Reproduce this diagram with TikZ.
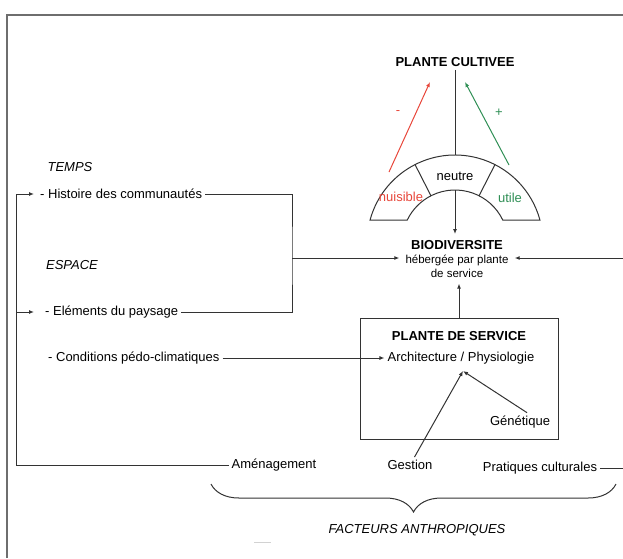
\documentclass[tikz,border=0pt]{standalone}
\usepackage{fontspec}
\setmainfont{Liberation Sans}
\usepackage{xcolor}
\usepackage{tikz}
\usetikzlibrary{arrows.meta,positioning,calc,decorations.pathreplacing}
\definecolor{NuisibleRed} {HTML}{E8473B}
\definecolor{UtileGreen}  {HTML}{2F8F55}
\definecolor{LineGray}    {HTML}{333333}
\definecolor{FrameGray}   {HTML}{6E6E6E}
\tikzset{
  txt/.style={font=\fontsize{13}{15}\selectfont,text=black,inner sep=3pt},
  ttl/.style={txt,font=\fontsize{13}{15}\selectfont\bfseries},
  axe/.style={txt,font=\fontsize{13}{15}\selectfont\itshape},
  link/.style={draw=LineGray,line width=1pt},
  arrowlink/.style={link,-{Latex[length=5pt,width=4pt]}},
}

\begin{document}
\begin{tikzpicture}[x=1pt,y=-1pt]
  \useasboundingbox (0,0) rectangle (623,558);
  % cadre
  \draw[FrameGray,line width=1.3pt] (7,558) |- (623,15);

  % plante cultivee et demi-anneau
  \node[ttl] (cult) at (455,62) {PLANTE CULTIVEE};
  \coordinate (ctr) at (455,243);
  \draw[link,fill=white] ($(ctr)+(-164.9:88)$) arc[start angle=-164.9,end angle=-15.1,radius=88]
    -- ($(ctr)+(-25.7:53)$) arc[start angle=-25.7,end angle=-154.3,radius=53] -- cycle;
  \foreach \ang in {-117,-63}
    \draw[link] ($(ctr)+(\ang:53)$) -- ($(ctr)+(\ang:88)$);
  \node[txt] (neut) at (455,176) {neutre};
  \node[txt,text=NuisibleRed] (nuis) at (401,197) {nuisible};
  \node[txt,text=UtileGreen] (util) at (510,198) {utile};
  \coordinate (ringtop) at (455,155);
  \coordinate (ringin) at (455,190);
  \draw[link] (cult) -- (ringtop);

  \coordinate (nuisfrom) at (389,172);
  \coordinate (nuisto) at (430,82);
  \coordinate (utilfrom) at (509,165);
  \coordinate (utilto) at (465,82);
  \draw[arrowlink,draw=NuisibleRed] (nuisfrom) -- (nuisto);
  \draw[arrowlink,draw=UtileGreen] (utilfrom) -- (utilto);
  \node[txt,text=NuisibleRed] (moins) at (398,113) {-};
  \node[txt,text=UtileGreen] (plus) at (499,113) {+};

  % biodiversite
  \node[align=center,inner sep=6pt,anchor=north,font=\fontsize{11.5}{13.5}\selectfont]
    (biod) at (457,234)
    {{\fontsize{13}{15}\selectfont\bfseries BIODIVERSITE}\\[1pt]
     hébergée par plante\\de service};
  \draw[arrowlink] (ringin) -- (ringin |- biod.north);

  % plante de service
  \node[draw=LineGray,line width=1pt,minimum width=198pt,minimum height=121pt,inner sep=0pt]
    (serv) at (459,378.5) {};
  \node[ttl] (servt) at (459,336) {PLANTE DE SERVICE};
  \node[txt] (archi) at (461,358) {Architecture / Physiologie};
  \node[txt] (gene) at (520,422) {Génétique};
  \coordinate (conv) at (463,371);
  \draw[arrowlink] (serv.north) -- (serv.north |- biod.south);
  \draw[arrowlink] ([xshift=7pt]gene.north) -- (conv);

  % temps, espace
  \node[axe] (temps) at (70,167) {TEMPS};
  \node[txt,anchor=west] (hist) at (37,194) {- Histoire des communautés};
  \node[axe] (espace) at (72,265) {ESPACE};
  \node[txt,anchor=west] (elem) at (42,312) {- Eléments du paysage};
  \node[txt,anchor=west] (cond) at (45,358) {- Conditions pédo-climatiques};
  \coordinate (jonc) at (292,258);
  \coordinate (bordD) at (623,258);
  \draw[link] (hist.east) -| (jonc) |- (elem.east);
  \draw[arrowlink] (jonc) -- (jonc -| biod.west);
  \draw[arrowlink] (bordD) -- (bordD -| biod.east);
  \draw[arrowlink] (cond) -- (archi);

  % facteurs anthropiques
  \node[txt] (amen) at (274,465) {Aménagement};
  \node[txt] (gest) at (410,465) {Gestion};
  \node[txt] (prat) at (540,468) {Pratiques culturales};
  \coordinate (boucle) at (16,194);
  \coordinate (bordB) at (623,468);
  \draw[arrowlink] (gest) -- (conv);
  \draw[link] (amen.west) -| (boucle);
  \draw[arrowlink,shorten >=3pt] (boucle) -- (hist.west);
  \draw[arrowlink,shorten >=8pt] (boucle |- elem) -- (elem.west);
  \draw[link] (prat) -- (bordB);
  \coordinate (accG) at (211,484);
  \coordinate (accD) at (616,484);
  \draw[link,decorate,decoration={brace,mirror,amplitude=28pt}] (accG) -- (accD);
  \node[axe] (fact) at (417,530) {FACTEURS ANTHROPIQUES};
  \draw[gray!35,line width=1pt] (254,542) -- (271,542);
\end{tikzpicture}
\end{document}
